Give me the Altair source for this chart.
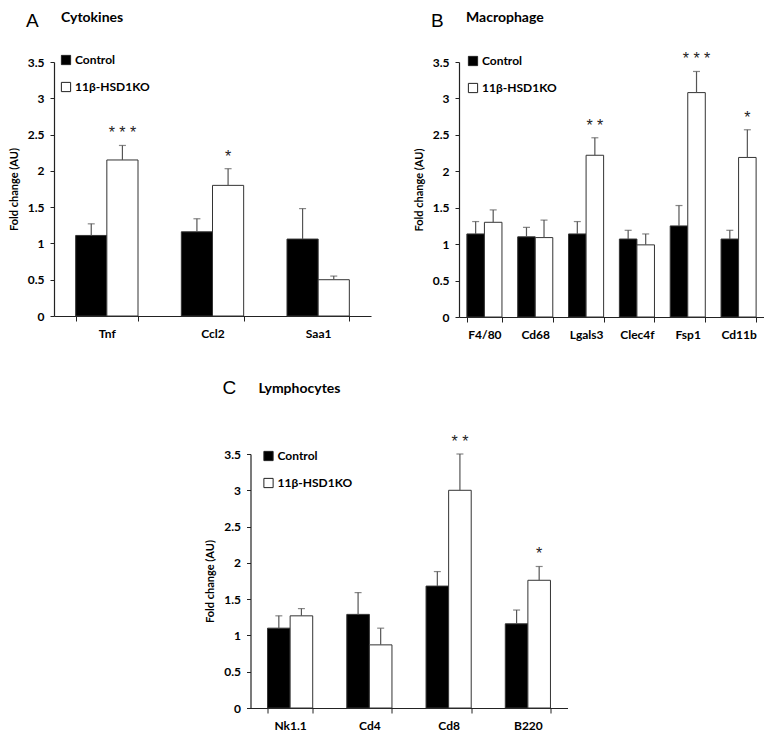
import altair as alt
import pandas as pd

FONT = "Lato"
groups = ["Control", "11β-HSD1KO"]
y_ticks = [0, 0.5, 1, 1.5, 2, 2.5, 3, 3.5]

# Panel A
a_letter = "A"
a_title = "Cytokines"
a_cats = ["Tnf", "Ccl2", "Saa1"]
a_ctrl = [1.11, 1.16, 1.06]
a_ctrl_sem = [0.16, 0.18, 0.42]
a_ko = [2.15, 1.80, 0.50]
a_ko_sem = [0.20, 0.23, 0.05]
a_stars = ["***", "*", ""]

# Panel B
b_letter = "B"
b_title = "Macrophage"
b_cats = ["F4/80", "Cd68", "Lgals3", "Clec4f", "Fsp1", "Cd11b"]
b_ctrl = [1.14, 1.10, 1.14, 1.07, 1.25, 1.07]
b_ctrl_sem = [0.17, 0.13, 0.17, 0.12, 0.28, 0.12]
b_ko = [1.30, 1.09, 2.22, 0.99, 3.08, 2.19]
b_ko_sem = [0.17, 0.24, 0.24, 0.15, 0.29, 0.38]
b_stars = ["", "", "**", "", "***", "*"]

# Panel C
c_letter = "C"
c_title = "Lymphocytes"
c_cats = ["Nk1.1", "Cd4", "Cd8", "B220"]
c_ctrl = [1.10, 1.29, 1.68, 1.16]
c_ctrl_sem = [0.17, 0.30, 0.20, 0.19]
c_ko = [1.27, 0.87, 3.00, 1.76]
c_ko_sem = [0.10, 0.23, 0.50, 0.19]
c_stars = ["", "", "**", "*"]


def panel(letter, title, cats, ctrl, ctrl_sem, ko, ko_sem, stars,
          w, h, pad, lx, ly, letter_xy, title_xy):
    rows = []
    for i, c in enumerate(cats):
        rows.append(dict(cat=c, group=groups[0], value=ctrl[i],
                         top=ctrl[i] + ctrl_sem[i], star=""))
        rows.append(dict(cat=c, group=groups[1], value=ko[i],
                         top=ko[i] + ko_sem[i], star=" ".join(stars[i])))
    df = pd.DataFrame(rows)

    x = alt.X("cat:N", sort=cats,
              scale=alt.Scale(paddingInner=pad, paddingOuter=pad / 2),
              axis=alt.Axis(title=None, labelAngle=0, tickBand="extent",
                            tickSize=5, labelPadding=7, labelFont=FONT,
                            labelFontWeight="bold", labelFontSize=12,
                            labelColor="black", domainColor="#222",
                            tickColor="#222", domainWidth=1.2))
    xo = alt.XOffset("group:N", sort=groups,
                     scale=alt.Scale(paddingInner=0, paddingOuter=0))
    yscale = alt.Scale(domain=[0, 3.5], nice=False, zero=True)
    yaxis = alt.Axis(title="Fold change (AU)", values=y_ticks, format="~g",
                     tickSize=4, labelPadding=6, labelFont=FONT,
                     labelFontWeight="bold", labelFontSize=12,
                     labelColor="black", titleFont=FONT,
                     titleFontWeight="bold", titleFontSize=11,
                     titleColor="black", titlePadding=8, grid=False,
                     domainColor="#222", tickColor="#222", domainWidth=1.2)
    y = alt.Y("value:Q", scale=yscale, axis=yaxis, stack=None)
    ytop = alt.Y("top:Q", scale=yscale, axis=yaxis)

    base = alt.Chart(df)
    bars = base.mark_bar(stroke="#333", strokeWidth=1).encode(
        x=x, xOffset=xo, y=y,
        color=alt.Color("group:N", sort=groups,
                        scale=alt.Scale(domain=groups, range=["#000000", "#ffffff"]),
                        legend=alt.Legend(orient="none", legendX=lx, legendY=ly,
                                          title=None, symbolType="square",
                                          symbolSize=85, symbolStrokeColor="#222",
                                          symbolStrokeWidth=1, labelFont=FONT,
                                          labelFontWeight="bold", labelFontSize=12,
                                          labelColor="black", labelOffset=3,
                                          rowPadding=13, padding=0)))
    err = base.mark_rule(color="#555", strokeWidth=1.2).encode(
        x=x, xOffset=xo, y=y, y2="top:Q")
    cap = base.mark_tick(color="#555", thickness=1.2, size=7).encode(
        x=x, xOffset=xo, y=ytop)
    star = base.mark_text(font="Liberation Sans", fontSize=16, color="#222",
                          baseline="alphabetic", dy=-7).encode(
        x=x, xOffset=xo, y=ytop, text="star:N")
    letter_t = alt.Chart(pd.DataFrame({"t": [letter]})).mark_text(
        align="left", baseline="top", font="Liberation Sans",
        fontSize=19, color="black").encode(
        x=alt.value(letter_xy[0]), y=alt.value(letter_xy[1]), text="t:N")
    title_t = alt.Chart(pd.DataFrame({"t": [title]})).mark_text(
        align="left", baseline="top", font=FONT, fontWeight="bold",
        fontSize=14, color="black").encode(
        x=alt.value(title_xy[0]), y=alt.value(title_xy[1]), text="t:N")
    return alt.layer(bars, err, cap, star, letter_t, title_t).properties(
        width=w, height=h).resolve_scale(color="shared")


pa = panel(a_letter, a_title, a_cats, a_ctrl, a_ctrl_sem, a_ko, a_ko_sem,
           a_stars, 317, 254, 0.41, 6, -8, (-28, -50), (7, -51))
pb = panel(b_letter, b_title, b_cats, b_ctrl, b_ctrl_sem, b_ko, b_ko_sem,
           b_stars, 305, 255, 0.31, 8, -7, (-28, -50), (7, -51))
pc = panel(c_letter, c_title, c_cats, c_ctrl, c_ctrl_sem, c_ko, c_ko_sem,
           c_stars, 317, 254, 0.43, 12, -4, (-28, -75), (8, -72))

top_row = alt.hconcat(pa, pb, spacing=42).resolve_scale(
    color="independent", xOffset="independent").resolve_legend(color="independent")
chart = alt.vconcat(top_row, pc, spacing=39, center=True).resolve_scale(
    color="independent", xOffset="independent").resolve_legend(
    color="independent").configure_view(stroke=None).properties(
    padding={"top": 3, "left": 0, "right": 0, "bottom": 0})

chart.save("out.html", embed_options={"renderer": "svg", "actions": False})
